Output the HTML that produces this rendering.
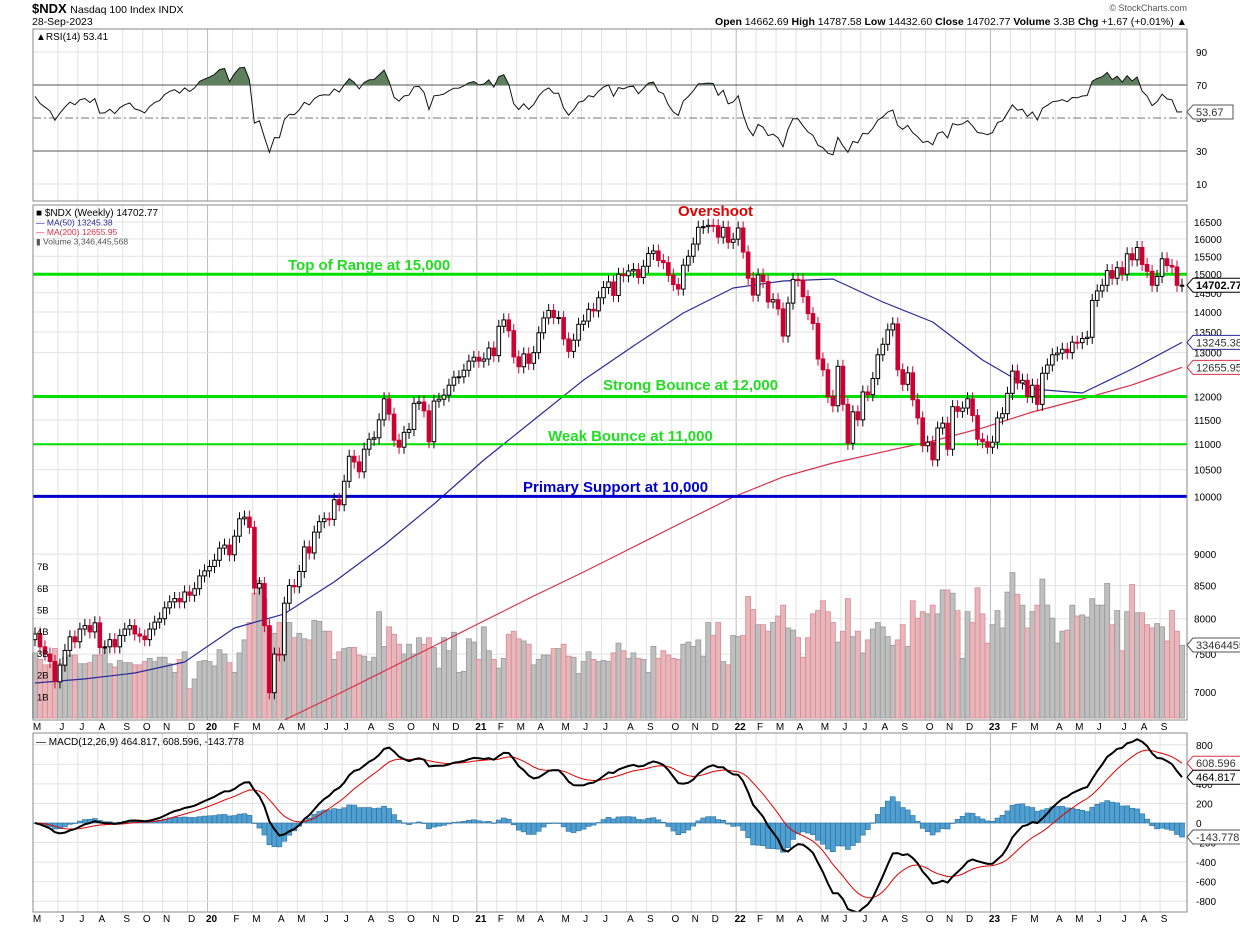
<!DOCTYPE html>
<html><head><meta charset="utf-8">
<style>
body{margin:0;background:#fff;}
svg{display:block;font-family:"Liberation Sans",Arial,sans-serif;}
</style></head>
<body>
<svg id="chart" width="1240" height="928" viewBox="0 0 1240 928" xmlns="http://www.w3.org/2000/svg">
<rect x="0" y="0" width="1240" height="928" fill="#fff"/>
<g id="hdr">
<text x="32" y="13" font-size="13" font-weight="bold">$NDX <tspan font-weight="normal" font-size="10.5">Nasdaq 100 Index  INDX</tspan></text>
<text x="32" y="25" font-size="10.5">28-Sep-2023</text>
<text x="1187" y="11" font-size="9" fill="#555" text-anchor="end">© StockCharts.com</text>
<text x="1187" y="25" font-size="10.5" text-anchor="end"><tspan font-weight="bold">Open</tspan> 14662.69  <tspan font-weight="bold">High</tspan> 14787.58  <tspan font-weight="bold">Low</tspan> 14432.60  <tspan font-weight="bold">Close</tspan> 14702.77  <tspan font-weight="bold">Volume</tspan> 3.3B  <tspan font-weight="bold">Chg</tspan> +1.67 (+0.01%) ▲</text>
</g>
<defs>
<clipPath id="clipMain"><rect x="33" y="205" width="1154" height="515"/></clipPath>
<clipPath id="clipRsi"><rect x="33" y="29" width="1154" height="172"/></clipPath>
<clipPath id="clipRsiHi"><rect x="33" y="29" width="1154" height="56"/></clipPath>
<clipPath id="clipMacd"><rect x="33" y="733" width="1154" height="179"/></clipPath>
</defs>
<g id="grid"></g>
<g id="rsiG"></g>
<g id="mainG"></g>
<g id="macdG"></g>
<g id="axes"></g>
</svg>
<script>
const closes=[7780,7600,7500,7400,7130, 7350,7550,7740,7670, 7850,7900,7810,7940, 7590,7600,7700,7600,7760, 7850,7900,7780,7750, 7700,7850,7950,8000, 8160,8250,8300,8250,8400, 8350,8450,8650,8730,
8800,8900,9100,9150,8990, 9300,9600,9630,9450, 8460,8530,7900,6990,7500, 7490,8230,8500,8480, 8720,9120,9020,9370,9550, 9600,9590,9940,9850, 10280,10760,10650,10460,10900, 11100,11130,11500,11950, 11620,11080,10940,11240, 11300,11850,11880,11690,11050, 11900,11940,12030,12250, 12430,12440,12590,12800,12890,
12800,12850,13110,12930, 13640,13800,13530,12900, 12670,12970,12750,13000, 13480,13850,14040,13860,13860, 13330,13030,13300,13690, 13770,14070,14030,14370, 14640,14790,14430,15000,14960, 15090,15130,14910,15220, 15580,15650,15380,15320,14970, 14720,14600,15250,15500, 15850,16340,16360,16400, 16390,16050,16340,15900,15990,
16320,15620,14890,14440, 14980,14800,14260,14320, 14080,13400,14230,14860, 14840,14400,13960,13710,12850, 12600,12000,11800,12680, 11830,11020,11670,11500, 12100,12040,12400,12950, 13200,13550,13700,12600, 12270,12530,11930,11540,10970, 11040,10690,11330,11430, 10900,11780,11680,11750, 11950,11590,11100,11050,10940,
11040,11540,11630,12070, 12570,12300,12360,12000, 12250,11830,12520,12710,12950, 12990,13080,13000,13250, 13240,13340,13370,14300, 14550,14700,15100,14890,15180, 15000,15570,15400,15750, 15270,15080,14700,14940, 15430,15240,15200,14700,14702.77];
const volumesB=[3.0,2.7,2.45,2.45,3.2,2.5,2.8,2.9,2.9,2.5,2.5,2.55,2.9,2.9,3.2,2.5,2.35,2.65,2.55,2.55,2.45,2.45,2.6,2.75,2.6,2.8,2.8,2.5,2.1,2.7,3.05,1.35,1.8,2.6,2.65,2.6,2.4,3.15,2.95,2.55,2.1,3.0,3.6,
4.4,5.75,6.35,5.5,4.2,3.9,4.4,3.9,4.4,3.7,3.9,3.65,3.6,4.5,4.45,4.0,4.0,2.7,3.05,3.2,3.25,3.25,2.9,2.85,2.6,2.8,4.9,3.3,4.2,3.85,3.4,2.95,3.4,2.95,3.7,3.4,3.7,3.25,2.3,3.7,3.1,3.95,2.1,2.15,3.65,3.5,2.7,4.2,3.1,2.7,2.3,2.75,3.85,4.0,3.65,3.55,3.4,2.45,2.7,2.9,2.9,3.2,3.2,3.4,2.85,2.8,2.05,2.6,3.05,2.7,2.6,2.65,
2.6,3.0,3.45,3.1,2.75,3.0,2.75,2.7,2.1,3.3,2.75,3.1,2.9,2.75,2.7,3.4,3.5,3.3,3.6,2.85,4.4,3.8,4.4,2.6,2.45,3.8,3.75,3.8,5.6,5.0,4.3,4.3,4.0,4.4,4.7,5.2,4.15,4.05,3.7,2.8,3.7,4.8,4.95,5.4,4.9,4.4,3.5,4.0,5.5,3.75,4.0,3.0,3.6,4.1,4.4,4.2,3.75,3.35,3.6,4.3,3.3,5.4,4.6,4.9,4.8,5.2,4.8,5.9,5.9,5.75,4.95,2.75,4.9,4.4,6.0,4.8,3.45,4.3,4.95,4.15,5.8,6.7,5.7,5.2,4.15,4.9,5.2,6.4,5.2,4.6,3.45,4.0,4.05,5.2,4.7,4.75,4.65,5.5,5.2,5.2,6.2,4.3,4.95,3.1,4.9,6.15,4.85,4.85,4.3,4.15,4.35,4.2,3.55,4.95,4.0,3.35];
const maWeeks=[0,10,20,30,40,50,60,70,80,90,100,110,120,130,140,150,160,170,180,190,200,210,220,230];
const ma50=[7115,7168,7245,7392,7866,8070,8556,9152,9862,10687,11497,12368,13159,13975,14627,14815,14870,14259,13748,12827,12166,12078,12618,13245.38];
const ma200=[null,null,null,null,null,6650,6947,7271,7612,7966,8339,8712,9118,9545,9989,10362,10629,10846,11065,11331,11665,11946,12256,12655.95];
const monthLabels=["M","J","J","A","S","O","N","D","20","F","M","A","M","J","J","A","S","O","N","D","21","F","M","A","M","J","J","A","S","O","N","D","22","F","M","A","M","J","J","A","S","O","N","D","23","F","M","A","M","J","J","A","S"];
const monthWeeks=[5,4,4,5,4,4,5,4,5,4,5,4,5,4,5,4,4,5,4,5,4,4,4,5,4,4,5,4,5,4,4,5,4,4,4,5,4,4,4,4,5,4,4,5,4,4,5,4,4,5,4,4,5];
const priceTicks=[16500,16000,15500,15000,14500,14000,13500,13000,12000,11500,11000,10500,10000,9000,8500,8000,7500,7000];
const volTicks=[1,2,3,4,5,6,7];
const rsiTicks=[90,70,50,30,10];
const macdTicks=[800,600,400,200,0,-200,-400,-600,-800];
const levels=[15000,12000,11000,10000];
const levelLabels=["Top of Range at 15,000","Strong Bounce at 12,000","Weak Bounce at 11,000","Primary Support at 10,000"];

const NS="http://www.w3.org/2000/svg";
const N=closes.length;
const X0=35,X1=1182,PL=33,PR=1187;
function xW(i){return X0+i*(X1-X0)/(N-1);}
function yP(p){return 222+548*Math.log(16500/p);}
function yV(v){return 718-v*21.7;}
function yR(v){return 118-(v-50)*1.65;}
function yM(v){return 823-v*0.0978;}
function mk(tag,attrs,parent){const e=document.createElementNS(NS,tag);for(const k in attrs)e.setAttribute(k,attrs[k]);parent.appendChild(e);return e;}
function txt(parent,x,y,s,attrs){const t=mk('text',Object.assign({x:x,y:y},attrs||{}),parent);t.textContent=s;return t;}

const grid=document.getElementById('grid'),rsiG=document.getElementById('rsiG'),mainG=document.getElementById('mainG'),macdG=document.getElementById('macdG'),axes=document.getElementById('axes');

[[29,201,'rsi-frame'],[205,720,'price-frame'],[733,912,'macd-frame']].forEach(p=>{
  const r=mk('rect',{x:PL,y:p[0],width:PR-PL,height:p[1]-p[0],fill:'none',stroke:'#888','stroke-width':1},axes);
  
  
});

let acc=0;
monthLabels.forEach((m,k)=>{
  const x=xW(acc)-2;
  const yr=/\d/.test(m);
  [[29,201],[205,720],[733,912]].forEach(p=>{
    const l=mk('line',{x1:x,x2:x,y1:p[0],y2:p[1],stroke:yr?'#bbb':'#e2e2e2','stroke-width':1},grid);
    
    
  });
  [730,922].forEach(yy=>{
    const t=txt(axes,x+4,yy,m,{'font-size':10,'text-anchor':'middle','font-weight':yr?'bold':'normal'});
    
    
  });
  acc+=monthWeeks[k];
});

priceTicks.forEach(p=>{
  const y=yP(p);
  const l=mk('line',{x1:PL,x2:PR,y1:y,y2:y,stroke:'#e2e2e2'},grid);
  
  
  const t=txt(axes,1194,y+4,String(p),{'font-size':10});
  
  
});
volTicks.forEach(v=>{
  const t=txt(axes,37,yV(v)+4,v+'B',{'font-size':9.5});
  
  
});

const bw=(X1-X0)/(N-1);
for(let i=0;i<N;i++){
  const prev=i?closes[i-1]:closes[0];
  const dn=closes[i]<prev;
  const y=yV(volumesB[i]);
  const r=mk('rect',{x:xW(i)-bw/2,y:y,width:bw,height:718-y,fill:dn?'#e8b7bc':'#bfbfbf',stroke:dn?'#d98a93':'#999','stroke-width':0.8},mainG);
  
  
}

function maPath(arr,color,name,width){
  let d='';
  arr.forEach((v,k)=>{if(v==null)return;const x=xW(maWeeks[k]*(N-1)/230),y=yP(v);d+=(d?'L':'M')+x.toFixed(1)+','+y.toFixed(1);});
  const p=mk('path',{d:d,fill:'none',stroke:color,'stroke-width':width,'stroke-linejoin':'round','clip-path':'url(#clipMain)'},mainG);
  
  
}
maPath(ma50,'#2a2a9a','ma50-line',1.2);
maPath(ma200,'#d9304a','ma200-line',1.2);

const lvlColors=['#00e000','#00e000','#00e000','#0000cc'];
const lvlW=[3,3,2,3];
levels.forEach((v,k)=>{
  const l=mk('line',{x1:PL,x2:PR,y1:yP(v),y2:yP(v),stroke:lvlColors[k],'stroke-width':lvlW[k]},mainG);
  
  
});
const lblPos=[[288,270],[603,390],[548,441],[523,492]];
levelLabels.forEach((s,k)=>{
  const t=txt(mainG,lblPos[k][0],lblPos[k][1],s,{'font-size':15,'font-weight':'bold',fill:k===3?'#0000cc':'#22dd22'});
  
  
});
const ov=txt(mainG,678,216,'Overshoot',{'font-size':15,'font-weight':'bold',fill:'#e00000'});



for(let i=0;i<N;i++){
  const o=i?closes[i-1]:7700,c=closes[i];
  const hi=Math.max(o,c)*1.012,lo=Math.min(o,c)*0.988;
  const dn=c<o;
  const x=xW(i);
  const col=dn?'#cc0033':'#000';
  const w=mk('line',{x1:x,x2:x,y1:yP(hi),y2:yP(lo),stroke:col,'stroke-width':1,'clip-path':'url(#clipMain)'},mainG);
  
  
  const yt=yP(Math.max(o,c)),yb=yP(Math.min(o,c));
  const b=mk('rect',{x:x-1.8,y:yt,width:3.6,height:Math.max(1,yb-yt),fill:dn?'#cc0033':'#fff',stroke:col,'stroke-width':1,'clip-path':'url(#clipMain)'},mainG);
  
  
}

const lg=[["■ $NDX (Weekly) 14702.77",'#000'],["— MA(50) 13245.38",'#2a2a9a'],["— MA(200) 12655.95",'#d9304a'],["▮ Volume 3,346,445,568",'#555']];
lg.forEach((s,k)=>{
  const t=txt(mainG,36,216+k*9.5,s[0],{'font-size':k?8.5:10,fill:s[1]});
  
  
});

function tag(y,s,color,bold,parent){
  const g=mk('g',{},parent);
  
  
  const w=s.length*6.4+8;
  mk('path',{d:`M1187,${y} L1193,${y-7} L${1193+w},${y-7} L${1193+w},${y+7} L1193,${y+7} Z`,fill:'#fff',stroke:color,'stroke-width':1},g);
  txt(g,1196,y+4,s,{'font-size':11,'font-weight':bold?'bold':'normal',fill:color==='#000'?'#000':'#333'});
}
tag(yP(closes[N-1]),closes[N-1].toFixed(2),'#000',true,axes);
tag(yP(ma50[ma50.length-1]),ma50[ma50.length-1].toFixed(2),'#2a2a9a',false,axes);
tag(yP(ma200[ma200.length-1]),ma200[ma200.length-1].toFixed(2),'#d9304a',false,axes);
tag(645,'33464455','#555',false,axes);

const rsi=[];let ag=120,al=70;
for(let i=0;i<N;i++){
  if(i>0){
    const ch=closes[i]-closes[i-1];
    const g=Math.max(ch,0),l=Math.max(-ch,0);
    ag=(ag*13+g)/14;al=(al*13+l)/14;
  }
  rsi.push(al===0?100:100-100/(1+ag/al));
}
rsiTicks.forEach(v=>{
  const y=yR(v);
  const l=mk('line',{x1:PL,x2:PR,y1:y,y2:y,stroke:(v===70||v===30)?'#555':(v===50?'#777':'#e2e2e2'),'stroke-width':1,'stroke-dasharray':v===50?'8,3,2,3':'none'},rsiG);
  
  
  const t=txt(axes,1196,y+4,String(v),{'font-size':10});
  
  
});
let rd='';rsi.forEach((v,i)=>{rd+=(i?'L':'M')+xW(i).toFixed(1)+','+yR(v).toFixed(1);});
const rf=mk('path',{d:rd+`L${xW(N-1)},${yR(70)}L${xW(0)},${yR(70)}Z`,fill:'#5f805f',stroke:'none','clip-path':'url(#clipRsiHi)'},rsiG);


const rl=mk('path',{d:rd,fill:'none',stroke:'#111','stroke-width':1,'clip-path':'url(#clipRsi)'},rsiG);


const rlg=txt(rsiG,36,40,'▲RSI(14) 53.41',{'font-size':10});


const rsiLast=rsi[N-1];
tag(yR(rsiLast),rsiLast.toFixed(2),'#555',false,axes);

function ema(arr,n){const k=2/(n+1);const out=[];let e=arr[0];arr.forEach((v,i)=>{e=i?v*k+e*(1-k):v;out.push(e);});return out;}
const e12=ema(closes,12),e26=ema(closes,26);
const macd=closes.map((c,i)=>e12[i]-e26[i]);
const sig=ema(macd,9);
macdTicks.forEach(v=>{
  const y=yM(v);
  const l=mk('line',{x1:PL,x2:PR,y1:y,y2:y,stroke:'#e2e2e2'},grid);
  
  
  const t=txt(axes,1196,y+4,String(v),{'font-size':10});
  
  
});
for(let i=0;i<N;i++){
  const h=macd[i]-sig[i];
  const y0=yM(0),y1=yM(h);
  const r=mk('rect',{x:xW(i)-bw/2,y:Math.min(y0,y1),width:bw,height:Math.max(0.5,Math.abs(y1-y0)),fill:'#4f9fd0',stroke:'#2b6f9f','stroke-width':0.6,'clip-path':'url(#clipMacd)'},macdG);
  
  
}
let md='',sd='';
for(let i=0;i<N;i++){md+=(i?'L':'M')+xW(i).toFixed(1)+','+yM(macd[i]).toFixed(1);sd+=(i?'L':'M')+xW(i).toFixed(1)+','+yM(sig[i]).toFixed(1);}
const sl=mk('path',{d:sd,fill:'none',stroke:'#e00000','stroke-width':1,'clip-path':'url(#clipMacd)'},macdG);


const ml=mk('path',{d:md,fill:'none',stroke:'#000','stroke-width':2,'clip-path':'url(#clipMacd)'},macdG);


const mlg=txt(macdG,36,745,'— MACD(12,26,9) 464.817, 608.596, -143.778',{'font-size':10});


tag(yM(sig[N-1]),'608.596','#d9304a',false,axes);
tag(yM(macd[N-1]),'464.817','#000',false,axes);
tag(yM(macd[N-1]-sig[N-1]),'-143.778','#555',false,axes);
</script>
</body></html>
